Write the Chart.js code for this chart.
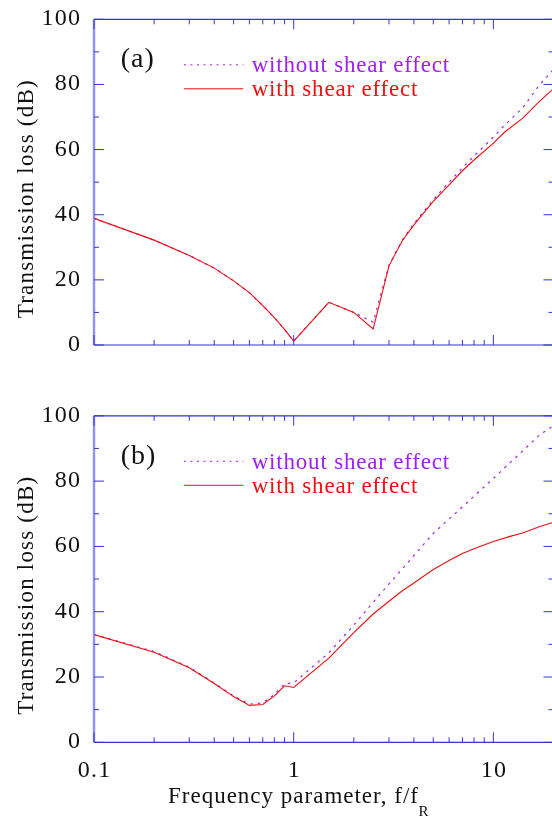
<!DOCTYPE html>
<html><head><meta charset="utf-8">
<script src="https://cdn.jsdelivr.net/npm/chart.js@4.4.1/dist/chart.umd.min.js"></script>
<style>
html,body{margin:0;padding:0;background:#fff;overflow:hidden;}
#wrap{position:relative;width:552px;height:821px;overflow:hidden;background:#fff;}
canvas{position:absolute;left:0;}
</style></head><body>
<div id="wrap">
<canvas id="ca" width="554" height="390" style="top:0px"></canvas>
<canvas id="cb" width="554" height="431" style="top:390px"></canvas>
</div>
<script>
// ---- data ----
const freqA = [0.1,0.2,0.3,0.4,0.5,0.6,0.7,0.8,0.9,1.0,1.5,2.0,2.5,3.0,3.5,4.0,5.0,6.0,7.0,8.0,10,11.4,14,17,20];
const withShearA = [38.9,32.2,27.5,23.6,19.7,16.1,12.1,8.4,4.8,1.2,13.1,10.0,4.9,24.3,32.0,36.9,44.1,49.2,53.5,56.8,62.0,65.4,69.6,74.8,78.7];
const withoutShearA = [38.9,32.2,27.5,23.6,19.7,16.1,12.1,8.4,4.8,1.2,13.1,10.0,7.0,24.5,32.3,37.3,44.6,50.0,54.4,58.0,63.8,67.5,72.8,79.8,84.6];

const freqB = [0.1,0.2,0.3,0.4,0.5,0.6,0.7,0.8,0.9,1.0,1.5,2.0,2.5,3.0,3.5,4.0,5.0,6.0,7.0,8.0,10,12,14,17,20];
const withShearB = [33.0,27.6,22.8,18.0,14.0,11.3,11.6,14.2,17.3,16.8,25.8,33.6,39.3,43.2,46.4,48.8,52.9,55.7,57.8,59.3,61.5,63.0,64.1,66.0,67.4];
const withoutShearB = [33.0,27.8,23.0,18.2,14.2,11.7,12.1,14.6,18.0,18.2,27.4,35.9,42.9,48.5,53.1,57.2,64.0,68.4,72.1,75.4,80.8,85.4,89.2,94.1,97.0];

const yMajorTicks = [0,20,40,60,80,100];
const yMinorTicks = [10,30,50,70,90];
const yTickLabels = ['0','20','40','60','80','100'];
const xMajorTicks = [0.1,1,10];
const xMinorTicks = [0.2,0.3,0.4,0.5,0.6,0.7,0.8,0.9,2,3,4,5,6,7,8,9];
const xTickLabels = ['0.1','1','10'];
const seriesNames = ['without shear effect','with shear effect'];
const panelLabels = ['(a)','(b)'];
const yTitle = 'Transmission loss (dB)';
const xTitle = 'Frequency parameter, f/f';
const xTitleSub = 'R';

const AXIS = '#3535d0';
const RED = 'rgb(238,16,16)';
const PURPLE = '#a020f0';
const SERIF = '"Liberation Serif","Times New Roman",Times,serif';

function drawText(ctx, s, x, y, font, color, align, sp) {
  ctx.save();
  ctx.font = font;
  ctx.fillStyle = color;
  try { ctx.letterSpacing = sp + 'px'; } catch (e) {}
  ctx.textBaseline = 'alphabetic';
  ctx.textAlign = 'left';
  const w = ctx.measureText(s).width - sp;
  let x0 = x;
  if (align === 'center') x0 = x - w / 2;
  else if (align === 'right') x0 = x - w;
  ctx.fillText(s, x0, y);
  ctx.restore();
  return x0 + w;
}

function makePlugin(idx, showX) {
  return {
    id: 'decor' + idx,
    afterDatasetsDraw(chart) {
      const ctx = chart.ctx, ca = chart.chartArea;
      const xs = chart.scales.x, ys = chart.scales.y;
      ctx.save();
      // frame
      ctx.strokeStyle = AXIS; ctx.lineWidth = 1.2;
      ctx.beginPath();
      ctx.moveTo(ca.left, ca.top); ctx.lineTo(ca.right, ca.top);
      ctx.moveTo(ca.left, ca.bottom); ctx.lineTo(ca.right, ca.bottom);
      ctx.moveTo(ca.right, ca.top); ctx.lineTo(ca.right, ca.bottom);
      ctx.stroke();
      ctx.strokeStyle = 'rgba(110,110,235,0.75)'; ctx.lineWidth = 2.4;
      ctx.beginPath(); ctx.moveTo(ca.left, ca.top); ctx.lineTo(ca.left, ca.bottom); ctx.stroke();
      // ticks
      ctx.strokeStyle = AXIS; ctx.lineWidth = 1;
      ctx.beginPath();
      const xt = (v, L) => { const p = xs.getPixelForValue(v);
        ctx.moveTo(p, ca.bottom); ctx.lineTo(p, ca.bottom - L);
        ctx.moveTo(p, ca.top); ctx.lineTo(p, ca.top + L); };
      const yt = (v, L) => { const p = ys.getPixelForValue(v);
        ctx.moveTo(ca.left, p); ctx.lineTo(ca.left + L, p);
        ctx.moveTo(ca.right, p); ctx.lineTo(ca.right - L, p); };
      xMajorTicks.forEach(v => xt(v, 10));
      xMinorTicks.forEach(v => xt(v, 5));
      yMajorTicks.forEach(v => yt(v, 10));
      yMinorTicks.forEach(v => yt(v, 5));
      ctx.stroke();
      ctx.restore();

      const tickFont = '24px ' + SERIF;
      // y tick labels
      yMajorTicks.forEach((v, i) => {
        drawText(ctx, yTickLabels[i], 80, ys.getPixelForValue(v) + 6, tickFont, '#111', 'right', 1.2);
      });
      // x tick labels
      if (showX) {
        xMajorTicks.forEach((v, i) => {
          drawText(ctx, xTickLabels[i], xs.getPixelForValue(v), ca.bottom + 34.5, tickFont, '#111', 'center', 1.2);
        });
        const end = drawText(ctx, xTitle, 293, ca.bottom + 60.5, '23px ' + SERIF, '#111', 'center', 1);
        drawText(ctx, xTitleSub, end + 0.5, ca.bottom + 73.7, '15px ' + SERIF, '#111', 'left', 0);
      }
      // y title
      ctx.save();
      ctx.translate(32.5, ca.top + 180);
      ctx.rotate(-Math.PI / 2);
      drawText(ctx, yTitle, 0, 0, '23px ' + SERIF, '#111', 'center', 1.2);
      ctx.restore();
      // panel label
      drawText(ctx, panelLabels[idx], 120.7, ca.top + 48, '28px ' + SERIF, '#111', 'left', 1);
      // legend
      ctx.save();
      ctx.lineWidth = 1;
      ctx.strokeStyle = PURPLE; ctx.setLineDash([2, 4.5]);
      ctx.beginPath(); ctx.moveTo(184, ca.top + 45.5); ctx.lineTo(243.3, ca.top + 45.5); ctx.stroke();
      ctx.setLineDash([]);
      ctx.strokeStyle = RED;
      ctx.beginPath(); ctx.moveTo(184, ca.top + 69.5); ctx.lineTo(243.3, ca.top + 69.5); ctx.stroke();
      ctx.restore();
      drawText(ctx, seriesNames[0], 251.7, ca.top + 52.8, '23px ' + SERIF, PURPLE, 'left', 0.8);
      drawText(ctx, seriesNames[1], 251.7, ca.top + 77, '23px ' + SERIF, RED, 'left', 0.8);
    }
  };
}

function makeChart(id, idx, xs, withS, withoutS, padTop, xHeight, showX) {
  const toPts = (ys) => xs.map((x, i) => ({ x: x, y: ys[i] }));
  return new Chart(document.getElementById(id), {
    type: 'line',
    data: {
      datasets: [
        { label: seriesNames[1], data: toPts(withS), borderColor: RED, borderWidth: 1.1,
          pointRadius: 0, tension: 0, fill: false, order: 0 },
        { label: seriesNames[0], data: toPts(withoutS), borderColor: PURPLE, borderWidth: 1.2,
          borderDash: [2.5, 5], pointRadius: 0, tension: 0, fill: false, order: 1 }
      ]
    },
    options: {
      responsive: false, animation: false, devicePixelRatio: 1,
      layout: { padding: { top: padTop, right: 0.5, left: 0, bottom: 0 } },
      plugins: { legend: { display: false }, tooltip: { enabled: false } },
      scales: {
        x: { type: 'logarithmic', min: 0.1, max: 20,
             ticks: { display: false }, grid: { display: false }, border: { display: false },
             afterFit(s) { s.height = xHeight; } },
        y: { type: 'linear', min: 0, max: 100,
             ticks: { display: false }, grid: { display: false }, border: { display: false },
             afterFit(s) { s.width = 94; } }
      }
    },
    plugins: [makePlugin(idx, showX)]
  });
}

makeChart('ca', 0, freqA, withShearA, withoutShearA, 19.3, 45, false);
makeChart('cb', 1, freqB, withShearB, withoutShearB, 25.8, 78.7, true);
</script>
</body></html>
